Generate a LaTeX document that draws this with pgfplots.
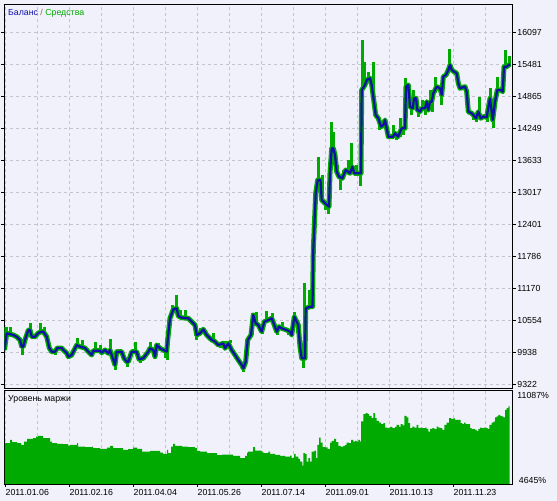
\documentclass[border=0pt]{standalone}
\usepackage{pgfplots}
\pgfplotsset{compat=1.18}
\usepackage{fontspec}
\setmainfont{Liberation Sans}
\definecolor{bg}{RGB}{241,241,251}
\definecolor{eqgreen}{RGB}{0,170,0}
\definecolor{balblue}{RGB}{16,16,168}
\definecolor{gridc}{RGB}{196,196,204}
\definecolor{slashc}{RGB}{150,100,60}

\pgfplotstableread{
x y
-0.5 9983
1.7 10305
8.3 10272
11.7 10239
15 10176
16.7 10047
18.3 10047
20 10176
23.3 10368
25 10368
26.7 10239
30 10239
33.3 10311
36.7 10336
38.3 10336
41.7 10239
44.3 10021
46.7 9950
50 9950
52.3 10021
56.7 10021
58.3 9983
61.7 9925
63.3 9854
66.7 9887
68.3 9950
71.7 10079
75 10047
80 10021
83.3 9950
86.7 9887
88.3 9969
95 9969
96.7 9931
100 9983
103.3 9919
105 9983
110 9694
111.7 9950
116.7 9950
119 9823
121.7 9757
123.3 9757
126.7 9950
131.7 9950
134 9804
138.3 9823
140 9867
143.3 9950
145 10016
148.3 9983
150 9854
151.7 10079
155 10016
158.3 9983
161.7 9950
162.7 10176
165 10594
168.3 10767
171.7 10786
173.3 10638
176.7 10605
183.3 10594
186.7 10528
190 10465
191.7 10272
195 10305
198.3 10382
201.7 10272
206 10189
210 10143
213.3 10079
218.3 10112
220 10016
223.3 10112
226.7 9983
230 9887
233.3 9790
236.7 9694
238.3 9630
240.7 9757
242.7 10176
246 10272
248.3 10657
250.7 10497
253.3 10465
256.7 10336
259.3 10528
263.3 10561
266.7 10594
269.3 10465
271.7 10336
274 10432
276.7 10401
281.7 10368
285 10336
286.7 10272
289.3 10625
291.7 10528
293.3 10465
295 10047
296.7 9823
300 9823
300.7 10786
305 10817
307.5 10817
308.3 11910
310.7 13003
312.7 13259
315.5 13259
316.7 12874
320 12810
324 12744
325 13388
326.7 13870
328.3 13870
330 13741
331.7 13419
334 13322
337.3 13292
340.7 13452
345 13388
347.3 13515
349.3 13388
356 13388
356.7 14993
360 15090
361.7 15186
365 15219
366.7 15090
368.3 14864
370.7 14511
373.3 14448
376 14286
378.3 14319
380 14415
383.3 14093
388 14093
390 14159
393 14093
396.7 14255
400 14255
401 15057
403.3 15090
405 14671
407.7 14641
409 14833
411 14833
412.3 14608
415 14575
416.7 14641
420 14641
421.7 14768
423.3 14608
425 14768
426.7 14768
428.3 14930
431.7 15057
435 15026
436.7 14897
438.3 15249
441 15282
443.3 15379
445 15475
446.7 15379
449 15346
451.7 15315
453.3 15122
455 15026
460 15057
461.7 14960
463.3 14575
466.7 14544
468.3 14511
471 14448
473.3 14575
475.7 14448
478.3 14480
481.7 14467
485 14833
487.7 14415
490 14768
492.3 14993
495.7 14993
497.7 14960
499 15442
501.7 15442
503.7 15475
505 15494
}\balance

\begin{document}
\fontsize{8.8}{10}\selectfont
\begin{tikzpicture}
\fill[bg] (0bp,0bp) rectangle (557bp,501bp);
\path[use as bounding box] (0bp,0bp) rectangle (557bp,501bp);

\pgfplotsset{
  mtgrid/.style={dash pattern=on 3bp off 3bp, gridc, line width=0.8bp},
}

% ---------------- main panel ----------------
\begin{axis}[
  at={(4.3bp,497bp)}, anchor=north west,
  scale only axis, width=508.4bp, height=384.3bp,
  xmin=-0.7, xmax=507.7, ymin=9245, ymax=16650,
  scaled ticks=false,
  axis line style={black, line width=0.9bp},
  xtick={0,64,...,448}, xticklabels={},
  minor xtick={32,96,...,480},
  xmajorgrids, xminorgrids, ymajorgrids,
  major grid style={mtgrid}, minor grid style={mtgrid},
  x tick style={draw=none},
  ytick={9322,9938,10554,11170,11786,12401,13017,13633,14249,14865,15481,16097},
  yticklabels={9322,9938,10554,11170,11786,12401,13017,13633,14249,14865,15481,16097},
  yticklabel pos=right,
  y tick style={black, line width=0.8bp},
  tick align=outside, major tick length=3bp,
  yticklabel style={anchor=west, inner sep=0pt, xshift=1.5bp},
  unbounded coords=jump,
  clip=true,
]
% equity band along balance
\addplot[eqgreen, line width=5bp, line join=round] table[x=x,y=y] {\balance};
% equity excursions
\addplot[eqgreen, line width=3bp, line cap=butt] coordinates {
(1,10305)(1,10426)(2,nan)
(5,10305)(5,10426)(6,nan)
(17,10047)(17,9887)(18,nan)
(25,10368)(25,10509)(26,nan)
(35,10311)(35,10503)(36,nan)
(39,10336)(39,10426)(40,nan)
(50,9950)(50,9887)(51,nan)
(72,10079)(72,10214)(73,nan)
(77,10047)(77,10176)(78,nan)
(90,9969)(90,10143)(91,nan)
(95,9969)(95,10079)(96,nan)
(105,9983)(105,10195)(106,nan)
(110.5,9694)(110.5,9598)(111,nan)
(122,9757)(122,9655)(123,nan)
(130,9950)(130,10143)(131,nan)
(135,9804)(135,9732)(136,nan)
(145,10016)(145,10137)(146,nan)
(153,10079)(153,10118)(154,nan)
(160,9983)(160,9829)(161,nan)
(162,9950)(162,9790)(162.5,nan)
(167,10700)(167,10850)(168,nan)
(171,10786)(171,11043)(172,nan)
(175,10638)(175,10754)(176,nan)
(180,10605)(180,10754)(181,nan)
(191,10272)(191,10176)(192,nan)
(195,10305)(195,10407)(196,nan)
(208,10189)(208,10311)(209,nan)
(215,10079)(215,10021)(216,nan)
(220,10016)(220,10156)(221,nan)
(225,10112)(225,10176)(226,nan)
(231,9887)(231,9848)(232,nan)
(238,9630)(238,9565)(239,nan)
(243,10176)(243,10233)(244,nan)
(247,10272)(247,10696)(248,nan)
(251,10497)(251,10715)(252,nan)
(257,10336)(257,10291)(258,nan)
(261,10528)(261,10733)(262,nan)
(267,10594)(267,10696)(268,nan)
(272,10336)(272,10272)(273,nan)
(277,10401)(277,10522)(278,nan)
(283,10368)(283,10272)(284,nan)
(289.5,10625)(289.5,10715)(290,nan)
(292,10528)(292,10311)(293,nan)
(298,9823)(298,9636)(298.5,nan)
(299.5,9823)(299.5,11274)(300,nan)
(304,10817)(304,11139)(305,nan)
(309,11910)(309,12295)(310,nan)
(313,13259)(313,13702)(314,nan)
(317,12874)(317,13355)(318,nan)
(320,12810)(320,12681)(321,nan)
(323,12744)(323,12604)(324,nan)
(326,13870)(326,14377)(327,nan)
(328,13870)(328,14184)(329,nan)
(332,13419)(332,13548)(333,nan)
(335,13322)(335,13066)(336,nan)
(338,13292)(338,13452)(339,nan)
(343,13452)(343,13644)(344,nan)
(346,13388)(346,13972)(347,nan)
(351,13388)(351,13548)(352,nan)
(355,13388)(355,13143)(355.5,nan)
(357,14993)(357,15957)(358,nan)
(359.3,15090)(359.3,15533)(360,nan)
(363,15186)(363,15340)(364,nan)
(368.3,14864)(368.3,15533)(369,nan)
(374,14448)(374,14222)(375,nan)
(388,14093)(388,14319)(389,nan)
(391,14159)(391,14030)(392,nan)
(395,14093)(395,14454)(396,nan)
(398,14255)(398,14126)(399,nan)
(400,14255)(400,15224)(400.5,nan)
(406,14671)(406,14511)(407,nan)
(408,14641)(408,14993)(409,nan)
(413,14608)(413,14473)(414,nan)
(417,14641)(417,14800)(418,nan)
(420,14641)(420,14511)(421,nan)
(425,14768)(425,14993)(426,nan)
(427,14768)(427,14569)(428,nan)
(430,14930)(430,15249)(431,nan)
(436,14897)(436,14704)(437,nan)
(444,15379)(444,15783)(445,nan)
(468,14511)(468,14415)(469,nan)
(471,14448)(471,14377)(472,nan)
(474,14575)(474,14858)(475,nan)
(482,14467)(482,14377)(483,nan)
(485,14833)(485,15026)(486,nan)
(488,14415)(488,14261)(489,nan)
(492,14993)(492,15249)(493,nan)
(500,15442)(500,15764)(501,nan)
(504,15475)(504,15648)
};
% balance
\addplot[balblue, line width=2.2bp, line join=round] table[x=x,y=y] {\balance};
\end{axis}

% ---------------- margin level panel ----------------
\begin{axis}[
  at={(4.3bp,110.3bp)}, anchor=north west,
  scale only axis, width=508.4bp, height=93.3bp,
  xmin=-0.7, xmax=507.7, ymin=4645, ymax=11087,
  scaled ticks=false,
  axis line style={black, line width=0.9bp},
  axis background/.style={fill=bg},
  xtick={0,64,...,448},
  xticklabels={2011.01.06,2011.02.16,2011.04.04,2011.05.26,2011.07.14,2011.09.01,2011.10.13,2011.11.23},
  xticklabel style={anchor=north west, inner sep=0pt, xshift=0.5bp, yshift=-2.5bp},
  minor xtick={32,96,...,480},
  xmajorgrids, xminorgrids,
  major grid style={mtgrid}, minor grid style={mtgrid},
  x tick style={black, line width=0.8bp},
  tick align=outside, major tick length=3bp, minor tick length=0pt,
  xtick pos=bottom,
  ytick={11087}, yticklabels={11087\%},
  yticklabel pos=right,
  y tick style={draw=none},
  yticklabel style={anchor=north west, inner sep=0pt, xshift=1.5bp, yshift=-1bp},
  extra y ticks={4645}, extra y tick labels={4645\%},
  extra y tick style={yticklabel style={anchor=south west, inner sep=0pt, xshift=1.5bp, yshift=1bp}, y tick style={draw=none}},
  clip=true,
]
\addplot[fill=eqgreen, draw=none, const plot] coordinates {
(0,7464)(5,7693)(7,7534)(12,7464)(16,7347)(19,7575)(22,7762)(28,7811)(31,7921)(33,7970)
(38,7811)(45,7575)(47,7464)(52,7416)(58,7395)(63,7298)(65,7347)(72,7464)(73,7229)(80,7187)
(87,7229)(88,7118)(95,7069)(102,7159)(105,7277)(108,7118)(118,7000)(123,7049)(128,7159)
(132,7069)(137,6882)(145,6931)(155,6813)(158,6723)(162,7000)(163,6772)(166,7229)(168,7416)
(170,7277)(177,7229)(183,7187)(190,7118)(192,6931)(195,6882)(202,6772)(212,6633)(217,6675)
(228,6585)(235,6425)(240,6585)(242,6813)(243,6882)(248,7187)(250,6952)(256.7,6882)
(258.3,6772)(263.3,6882)(265,6723)(270,6654)(275,6585)(280,6536)(285,6600)(286.7,6425)
(289,6723)(290.7,6536)(293.3,6377)(295,6190)(297.3,5913)(298.3,6772)(300,6700)(301.7,6190)
(303.3,6425)(305,6190)(306.7,6882)(309.3,6950)(311,6425)(312.3,7347)(314,7852)(315.7,7506)
(317.7,7187)(320,7170)(322.7,7049)(325,7506)(326.7,7624)(329,7762)(331,7534)(333.3,7277)
(335.7,7229)(338.3,7277)(340,7347)(341.7,7506)(344,7464)(346,7693)(348.3,7575)(350,7624)
(351.7,7575)(353.3,7693)(355,7575)(356,8961)(358.3,9473)(360.7,9542)(362.7,9473)(364,9355)
(366.7,9196)(368.3,9542)(370,9196)(371.7,9009)(374,8891)(376,8780)(378.3,8850)(380,8545)
(382.7,8503)(385,8593)(387.3,8503)(390,8593)(391.7,8732)(394,8593)(395.7,8780)(397.7,8700)
(399.3,9355)(401.7,9238)(403.3,8850)(405,8503)(407.3,8614)(409.3,8545)(411.7,8732)
(413.3,8503)(415.7,8545)(417.7,8503)(420,8545)(421.7,8455)(423.3,8268)(425,8455)(427.3,8503)
(429.3,8430)(431.7,8614)(433.3,8545)(435,8503)(437.3,8386)(439.3,8732)(441.7,8891)(444,9196)
(446,9150)(448.3,9170)(450,9078)(454,9078)(455.7,8850)(457.3,8780)(459,8891)(460.7,8780)
(465,8503)(466.7,8440)(470,8386)(471.7,8316)(473.3,8455)(475,8545)(476.7,8503)(479,8545)
(481,8503)(482.7,8455)(484.3,8732)(486.7,8891)(488.3,8960)(490,9238)(491.7,9307)(493.3,9425)
(495,9355)(496.7,9307)(498.3,9238)(500,9771)(501.7,9889)(503.3,10000)(504.7,10000)
} \closedcycle;
\end{axis}

\node[anchor=west, inner sep=0pt] at (8bp,488bp)
  {\textcolor{balblue}{Баланс} \textcolor{slashc}{/} \textcolor{eqgreen}{Средства}};
\node[anchor=west, inner sep=0pt] at (8bp,102bp) {Уровень маржи};
\end{tikzpicture}
\end{document}
